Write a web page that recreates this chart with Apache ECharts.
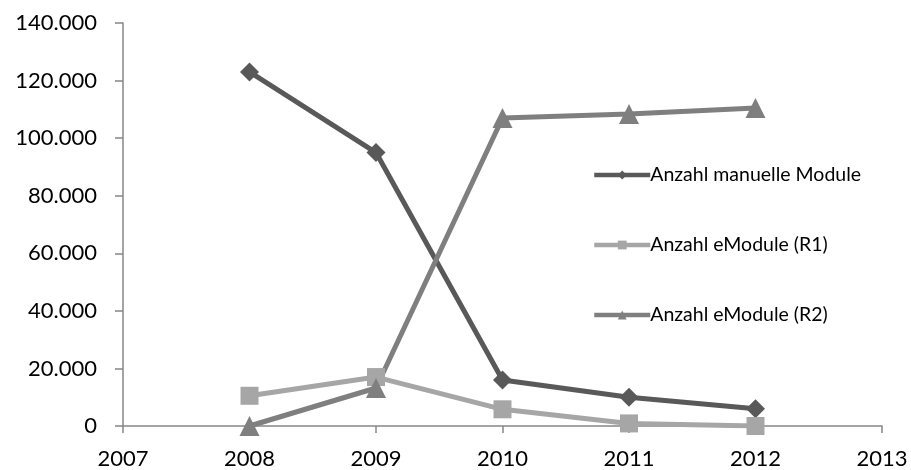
<!DOCTYPE html>
<html><head><meta charset="utf-8">
<script src="https://cdn.jsdelivr.net/npm/echarts@6/dist/echarts.min.js"></script>
<style>html,body{margin:0;padding:0;background:#fff}#c{width:911px;height:470px}</style>
</head><body><div id="c"></div>
<script>
const years = [2008, 2009, 2010, 2011, 2012];
const seriesNames = ['Anzahl manuelle Module', 'Anzahl eModule (R1)', 'Anzahl eModule (R2)'];
const manuelle = [123000, 95000, 16000, 10000, 6000];
const eModuleR1 = [10500, 17000, 5800, 900, 0];
const eModuleR2 = [0, 13200, 107000, 108400, 110500];

function fmt(v){ return String(v).replace(/\B(?=(\d{3})+(?!\d))/g, '.'); }
const font = 'Lato, "Open Sans", sans-serif';
const chart = echarts.init(document.getElementById('c'));
function pairs(arr){ return years.map((y,i)=>[y, arr[i]]); }
chart.setOption({
  animation: false,
  grid: {left: 123, right: 29, top: 23, bottom: 44},
  xAxis: {type: 'value', min: 2007, max: 2013, interval: 1,
    axisLine: {lineStyle: {color: '#868686', width: 1.5}},
    axisTick: {show: true, length: 7, lineStyle: {color: '#868686', width: 1.5}},
    splitLine: {show: false},
    axisLabel: {color: '#000', fontSize: 22, fontFamily: font, margin: 22, formatter: v => String(v)}},
  yAxis: {type: 'value', min: 0, max: 140000, interval: 20000,
    axisLine: {show: true, lineStyle: {color: '#868686', width: 1.5}},
    axisTick: {show: true, length: 8, lineStyle: {color: '#868686', width: 1.5}},
    splitLine: {show: false},
    axisLabel: {color: '#000', fontSize: 22, fontFamily: font, margin: 26, formatter: fmt}},
  legend: {orient: 'vertical', left: 587, top: 160, itemGap: 50, itemWidth: 56, itemHeight: 11,
    lineStyle: {width: 4.5},
    textStyle: {color: '#000', fontSize: 19.5, fontFamily: font, padding: [0,0,0,-5]}},
  series: [
    {name: seriesNames[0], type: 'line', data: pairs(manuelle), symbol: 'diamond', symbolSize: 19,
     lineStyle: {color: '#595959', width: 5}, itemStyle: {color: '#595959'}},
    {name: seriesNames[1], type: 'line', data: pairs(eModuleR1), symbol: 'rect', symbolSize: 18,
     lineStyle: {color: '#a6a6a6', width: 5}, itemStyle: {color: '#a6a6a6'}},
    {name: seriesNames[2], type: 'line', data: pairs(eModuleR2), symbol: 'triangle', symbolSize: 20,
     lineStyle: {color: '#7f7f7f', width: 5}, itemStyle: {color: '#7f7f7f'}}
  ]
});
</script></body></html>
